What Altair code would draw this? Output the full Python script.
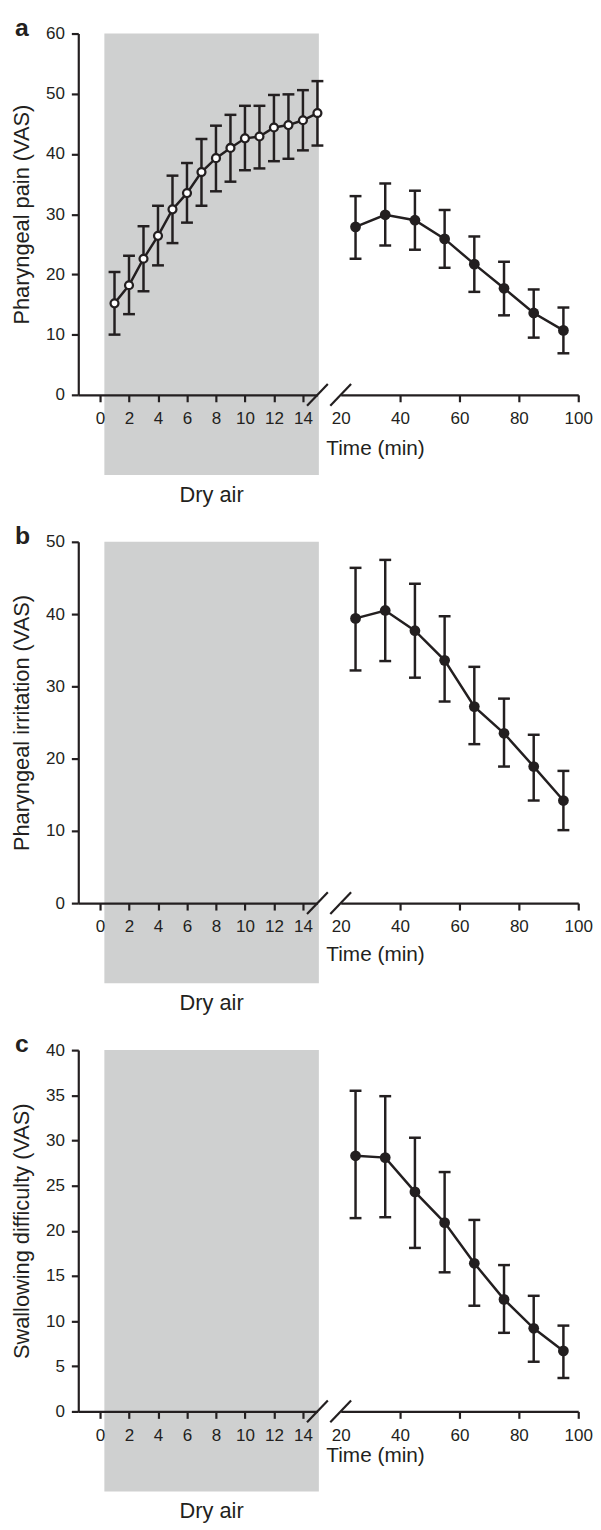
import altair as alt
import pandas as pd

FONT = "Liberation Sans"
INK = "#231f20"
GREY = "#cfd0d0"

# ---------------- data ----------------
dry_time = [1, 2, 3, 4, 5, 6, 7, 8, 9, 10, 11, 12, 13, 14, 15]
pain_dry_mean = [15.2, 18.2, 22.6, 26.4, 30.8, 33.5, 37.0, 39.3, 41.0, 42.6, 42.9, 44.4, 44.8, 45.6, 46.8]
pain_dry_low = [10.0, 13.4, 17.2, 21.5, 25.2, 28.6, 31.4, 33.8, 35.4, 37.3, 37.6, 38.8, 39.2, 40.6, 41.4]
pain_dry_high = [20.4, 23.1, 28.0, 31.4, 36.4, 38.5, 42.5, 44.7, 46.5, 48.0, 48.0, 49.8, 49.9, 50.6, 52.1]

post_time = [25, 35, 45, 55, 65, 75, 85, 95]
pain_post_mean = [27.9, 29.9, 29.0, 25.9, 21.7, 17.7, 13.6, 10.7]
pain_post_low = [22.6, 24.8, 24.1, 21.1, 17.1, 13.2, 9.5, 6.9]
pain_post_high = [33.0, 35.1, 33.9, 30.7, 26.3, 22.1, 17.5, 14.5]

irritation_post_mean = [39.4, 40.5, 37.7, 33.6, 27.2, 23.5, 18.9, 14.2]
irritation_post_low = [32.2, 33.5, 31.2, 27.9, 22.0, 18.9, 14.2, 10.1]
irritation_post_high = [46.4, 47.5, 44.2, 39.7, 32.7, 28.3, 23.3, 18.3]

swallow_post_mean = [28.3, 28.1, 24.3, 20.9, 16.4, 12.4, 9.2, 6.7]
swallow_post_low = [21.4, 21.5, 18.1, 15.4, 11.7, 8.7, 5.5, 3.7]
swallow_post_high = [35.5, 34.9, 30.3, 26.5, 21.2, 16.2, 12.8, 9.5]

panel_letters = ["a", "b", "c"]
y_titles = ["Pharyngeal pain (VAS)", "Pharyngeal irritation (VAS)", "Swallowing difficulty (VAS)"]
y_max = [60, 50, 40]
y_step = [10, 10, 5]
left_ticks = [0, 2, 4, 6, 8, 10, 12, 14]
right_ticks = [20, 40, 60, 80, 100]
left_domain = [-1.5, 15]
right_domain = [20, 100]
dry_band = [0.3, 15.1]
dry_label = "Dry air"
x_title = "Time (min)"
time_title_y = [60, 58, 51]

post_series = [
    (pain_post_mean, pain_post_low, pain_post_high),
    (irritation_post_mean, irritation_post_low, irritation_post_high),
    (swallow_post_mean, swallow_post_low, swallow_post_high),
]

LEFT_W, RIGHT_W, PLOT_H = 241.6, 240, 365
LW = 2.5


def series_layers(df, X, Y, open_points):
    bars = alt.Chart(df).mark_rule(color=INK, strokeWidth=LW).encode(
        x=X("t"), y=Y("lo"), y2="hi")
    cap_lo = alt.Chart(df).mark_tick(orient="horizontal", size=12, thickness=LW,
                                      color=INK, opacity=1).encode(x=X("t"), y=Y("lo"))
    cap_hi = alt.Chart(df).mark_tick(orient="horizontal", size=12, thickness=LW,
                                      color=INK, opacity=1).encode(x=X("t"), y=Y("hi"))
    line = alt.Chart(df).mark_line(color=INK, strokeWidth=LW).encode(x=X("t"), y=Y("mean"))
    if open_points:
        pts = alt.Chart(df).mark_circle(fill="white", stroke=INK, strokeWidth=2.3,
                                        size=64, opacity=1).encode(x=X("t"), y=Y("mean"))
    else:
        pts = alt.Chart(df).mark_circle(color=INK, size=118, opacity=1).encode(
            x=X("t"), y=Y("mean"))
    return [bars, cap_lo, cap_hi, line, pts]


def build_left(i, dry=None):
    ymax, ystep = y_max[i], y_step[i]
    xs = alt.Scale(domain=left_domain, nice=False, zero=False)
    ys = alt.Scale(domain=[0, ymax], nice=False, zero=False)
    xa = alt.Axis(values=left_ticks, title=None, labelPadding=8, zindex=1,
                  labelFlush=False, labelOverlap=False)
    ya = alt.Axis(values=list(range(0, ymax + 1, ystep)), title=y_titles[i],
                  labelPadding=7, titlePadding=12, titleFontSize=22, zindex=1,
                  labelOverlap=False)

    def X(f):
        return alt.X(f, type="quantitative", scale=xs, axis=xa)

    def Y(f):
        return alt.Y(f, type="quantitative", scale=ys, axis=ya)

    band_df = pd.DataFrame({"start": [dry_band[0]], "end": [dry_band[1]],
                            "top": [ymax], "bottom": [0],
                            "mid": [(dry_band[0] + dry_band[1]) / 2], "label": [dry_label]})
    band = alt.Chart(band_df).mark_rect(color=GREY, y2Offset=81).encode(
        x=X("start"), x2="end", y=Y("top"), y2="bottom")
    label = alt.Chart(band_df).mark_text(dy=108, baseline="alphabetic", fontSize=22,
                                         font=FONT, color=INK).encode(
        x=X("mid"), y=Y("bottom"), text="label")
    letter_df = pd.DataFrame({"lx": [left_domain[0]], "ly": [ymax], "letter": [panel_letters[i]]})
    letter = alt.Chart(letter_df).mark_text(align="left", baseline="alphabetic", dx=-64, dy=2,
                                            fontSize=25, fontWeight="bold", font=FONT,
                                            color=INK).encode(
        x=X("lx"), y=Y("ly"), text="letter")
    slash_df = pd.DataFrame({"bx": [left_domain[1]], "by": [0]})
    slash = alt.Chart(slash_df).mark_rule(color=INK, strokeWidth=2.2, xOffset=-10.5,
                                          x2Offset=10.5, yOffset=11, y2Offset=-11).encode(
        x=X("bx"), x2="bx", y=Y("by"), y2="by")
    layers = [band, label, letter]
    if dry is not None:
        layers += series_layers(dry, X, Y, True)
    layers.append(slash)
    return alt.layer(*layers).properties(width=LEFT_W, height=PLOT_H)


def build_right(i):
    ymax = y_max[i]
    mean, lo, hi = post_series[i]
    df = pd.DataFrame({"t": post_time, "mean": mean, "lo": lo, "hi": hi})
    xs = alt.Scale(domain=right_domain, nice=False, zero=False)
    ys = alt.Scale(domain=[0, ymax], nice=False, zero=False)
    xa = alt.Axis(values=right_ticks, title=x_title, labelPadding=8, zindex=1,
                  labelFlush=False, labelOverlap=False, titleFontSize=21,
                  titleAnchor="start", titleAlign="left", titleX=-15,
                  titleY=time_title_y[i], titleBaseline="alphabetic",
                  tickOpacity={"condition": {"test": "datum.value == 20", "value": 0}, "value": 1})

    def X(f):
        return alt.X(f, type="quantitative", scale=xs, axis=xa)

    def Y(f):
        return alt.Y(f, type="quantitative", scale=ys, axis=None)

    slash_df = pd.DataFrame({"bx": [right_domain[0]], "by": [0]})
    slash = alt.Chart(slash_df).mark_rule(color=INK, strokeWidth=2.2, xOffset=-10.5,
                                          x2Offset=10.5, yOffset=11, y2Offset=-11).encode(
        x=X("bx"), x2="bx", y=Y("by"), y2="by")
    layers = series_layers(df, X, Y, False) + [slash]
    return alt.layer(*layers).properties(width=RIGHT_W, height=PLOT_H)


dry_df = pd.DataFrame({"t": dry_time, "mean": pain_dry_mean,
                       "lo": pain_dry_low, "hi": pain_dry_high})

cells = []
for i in range(3):
    cells.append(build_left(i, dry_df if i == 0 else None))
    cells.append(build_right(i))

chart = alt.concat(*cells, columns=2, spacing={"row": 148.5, "column": 23.1},
                   bounds="flush").resolve_scale(
    x="independent", y="independent").properties(
    padding={"left": 2, "top": 0, "right": 0, "bottom": 0}
).configure_view(stroke=None).configure_axis(
    labelFont=FONT, labelFontSize=17.2, labelColor=INK,
    titleFont=FONT, titleFontSize=22, titleFontWeight="normal", titleColor=INK,
    domainColor=INK, domainWidth=2.2, tickColor=INK, tickWidth=2.2, tickSize=7, grid=False
)

chart.save("out.html", embed_options={"renderer": "svg", "actions": False})
